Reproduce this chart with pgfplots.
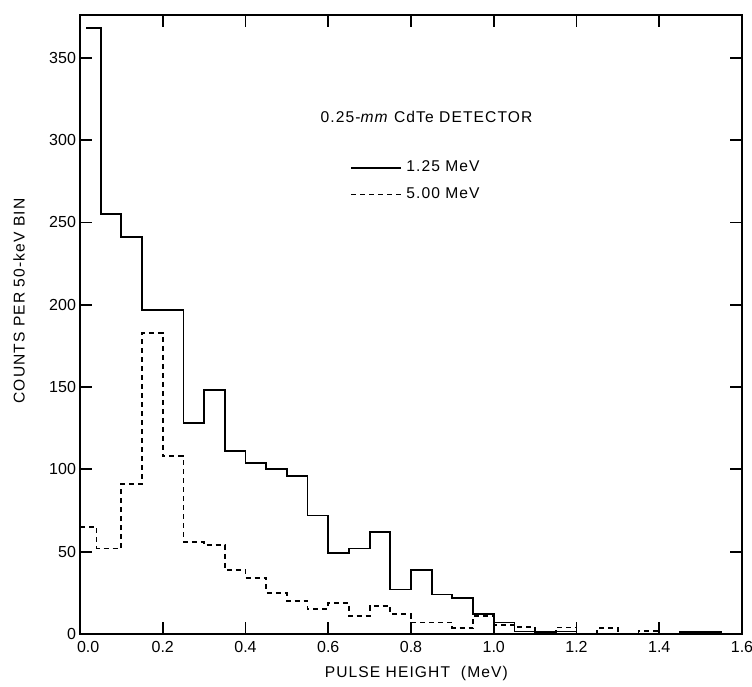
\documentclass[border=0pt]{standalone}
\usepackage{fontspec}
\setmainfont{Liberation Sans}
\newfontfamily\spaced[LetterSpace=7]{Liberation Sans}
\usepackage{pgfplots}
\usetikzlibrary{calc}
\pgfplotsset{compat=1.18}

\begin{document}
\begin{tikzpicture}
\begin{axis}[
    width=331pt, height=309.5pt, scale only axis,
    xmin=0, xmax=1.6, ymin=0, ymax=376,
    xtick={0,0.2,0.4,0.6,0.8,1.0,1.2,1.4,1.6},
    xticklabels={\rlap{\hspace{-1.5pt}0.0},0.2,0.4,0.6,0.8,1.0,1.2,1.4,1.6},
    ytick={0,50,100,150,200,250,300,350},
    tick align=inside, tick pos=both,
    major tick length=6pt,
    axis line style={line width=0.9pt},
    every tick/.style={line width=0.9pt, black},
    ticklabel style={font=\fontsize{8}{9}\selectfont},
    /pgf/number format/assume math mode=true,
    yticklabel style={xshift=1.5pt},
    xlabel={PULSE HEIGHT\ \ (MeV)},
    ylabel={COUNTS PER 50-keV BIN},
    label style={font=\spaced\fontsize{7.8}{9}\selectfont},
    xlabel style={at={(axis description cs:0.508,0)}, anchor=center, yshift=-19.5pt},
    ylabel style={at={(axis description cs:0,0.538)}, anchor=center, yshift=30.5pt},
    legend style={draw=none, fill=none, at={(0.405,0.775)}, anchor=north west,
        font=\spaced\fontsize{7.8}{9}\selectfont, row sep=2.5pt, inner sep=1pt},
    legend cell align=left,
    legend image code/.code={\draw[#1] (0pt,0pt) -- (25pt,0pt);},
]
\addplot[const plot, black, line width=0.9pt] coordinates {
(0.015,368) (0.05,255) (0.10,241) (0.15,197) (0.25,128) (0.30,148)
(0.35,111) (0.40,104) (0.45,100) (0.50,96) (0.55,72) (0.60,49)
(0.65,52) (0.70,62) (0.75,27) (0.80,39) (0.85,24) (0.90,22)
(0.95,12) (1.00,7) (1.05,1.5) (1.10,1) (1.15,1.5) (1.20,0)
(1.45,1) (1.55,0) (1.55,0)};
\addlegendentry{1.25 MeV}
\addplot[const plot, black, line width=0.9pt, dash pattern=on 2.5pt off 2pt] coordinates {
(0,65) (0.04,52) (0.10,91) (0.15,183) (0.20,108) (0.25,56)
(0.30,54) (0.35,39) (0.40,34) (0.45,25) (0.50,20) (0.55,15)
(0.60,19) (0.65,11) (0.70,17) (0.75,12) (0.80,7) (0.90,3.5)
(0.95,11) (1.00,5.5) (1.05,4.5) (1.10,0) (1.15,4) (1.20,0)
(1.25,3.5) (1.30,0) (1.35,2) (1.40,0) (1.40,0)};
\addlegendentry{5.00 MeV}
\node[font=\spaced\fontsize{7.8}{9}\selectfont] at (axis cs:0.8375,314) {0.25-\textit{mm} CdTe DETECTOR};
\end{axis}
\pgfresetboundingbox
\path[use as bounding box] ($(current axis.south west)+(-40pt,-26pt)$) rectangle ($(current axis.north east)+(5pt,7.5pt)$);
\end{tikzpicture}
\end{document}
